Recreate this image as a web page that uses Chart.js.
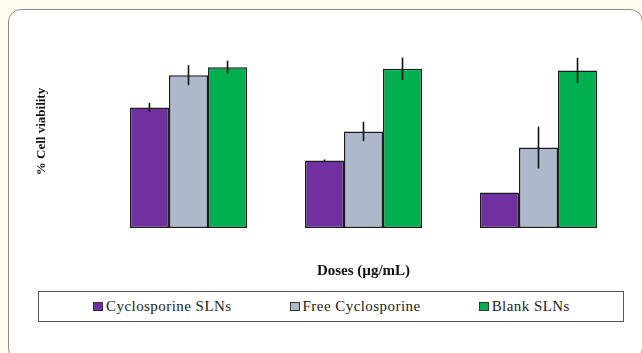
<!DOCTYPE html>
<html>
<head>
<meta charset="utf-8">
<script src="https://cdn.jsdelivr.net/npm/chart.js@4.4.0/dist/chart.umd.min.js"></script>
<style>
    body { margin: 0; background: #fffcee; width: 642px; height: 353px; overflow: hidden; position: relative; }
    .frame { position: absolute; left: 8px; top: 9px; width: 633px; height: 350px; border: 1px solid #8c8c8c; border-radius: 13px; background: #fff; }
    #chartBox { position: absolute; left: 0; top: 0; width: 642px; height: 290px; }
    #legend { position: absolute; left: 38px; top: 291px; width: 586px; height: 31px; border: 1px solid #555; background: #fff;
              display: flex; align-items: center; padding-left: 54px; box-sizing: border-box; }
    #legend .item { display: flex; align-items: center; flex-shrink: 0; white-space: nowrap; margin-right: 58px; font-family: "Liberation Serif", serif; font-size: 15px; letter-spacing: 0.45px; color: #222; }
    #legend .item:last-child { margin-right: 0; }
    #legend .box { width: 8px; height: 7px; border: 1px solid #333; margin-right: 3px; }
</style>
</head>
<body>
<div class="frame"></div>
<div id="chartBox"><canvas id="cellChart" width="642" height="290"></canvas></div>
<div id="legend"></div>
<script>
// Data (skala 0-120, tanpa label sumbu)
const doses = ['Dose 1', 'Dose 2', 'Dose 3'];
const seriesNames = ['Cyclosporine SLNs', 'Free Cyclosporine', 'Blank SLNs'];
const cyclosporineSLNs = [75, 42, 22];
const freeCyclosporine = [95, 60, 50];
const blankSLNs = [100, 99, 98];
const cyclosporineErr = [2.8, 0.6, 0];
const freeErr = [6.2, 6, 13];
const blankErr = [4, 7, 7.8];
const seriesColors = ['#7030a0', '#adb9ca', '#00b050'];

// Plugin garis error
const errorBars = {
    id: 'errorBars',
    afterDatasetsDraw(chart) {
        const ctx = chart.ctx;
        const y = chart.scales.y;
        ctx.save();
        ctx.strokeStyle = '#111';
        ctx.lineWidth = 1.6;
        chart.data.datasets.forEach((ds, i) => {
            const meta = chart.getDatasetMeta(i);
            meta.data.forEach((bar, j) => {
                const err = ds.errors[j];
                if (!err) return;
                const v = ds.data[j];
                ctx.beginPath();
                ctx.moveTo(bar.x, y.getPixelForValue(v + err));
                ctx.lineTo(bar.x, y.getPixelForValue(v - err));
                ctx.stroke();
            });
        });
        ctx.restore();
    }
};

const values = [cyclosporineSLNs, freeCyclosporine, blankSLNs];
const errors = [cyclosporineErr, freeErr, blankErr];

const chart = new Chart(document.getElementById('cellChart').getContext('2d'), {
    type: 'bar',
    data: {
        labels: doses,
        datasets: seriesNames.map((name, i) => ({
            label: name,
            data: values[i],
            errors: errors[i],
            backgroundColor: seriesColors[i],
            borderColor: '#1c1c1c',
            borderWidth: 1.5,
            borderSkipped: false,
            barPercentage: 1,
            categoryPercentage: 0.669
        }))
    },
    options: {
        responsive: false,
        animation: false,
        layout: { padding: { left: 30, right: 16, top: 35, bottom: 6 } },
        plugins: {
            legend: { display: false },
            tooltip: { enabled: false }
        },
        scales: {
            x: {
                grid: { display: false },
                border: { display: false },
                ticks: { display: false },
                title: {
                    display: true,
                    text: 'Doses (µg/mL)',
                    color: '#111',
                    font: { family: 'Liberation Serif', size: 15, weight: 'bold' }
                },
                afterFit: s => { s.height = 56; }
            },
            y: {
                min: 0,
                max: 120,
                grid: { display: false },
                border: { display: false },
                ticks: { display: false },
                title: {
                    display: true,
                    text: '% Cell viability',
                    color: '#111',
                    font: { family: 'Liberation Serif', size: 13, weight: 'bold' }
                },
                afterFit: s => { s.width = 71; }
            }
        }
    },
    plugins: [errorBars]
});

// Legend HTML
const legendEl = document.getElementById('legend');
chart.data.datasets.forEach(ds => {
    const item = document.createElement('div');
    item.className = 'item';
    const box = document.createElement('span');
    box.className = 'box';
    box.style.background = ds.backgroundColor;
    const txt = document.createElement('span');
    txt.textContent = ds.label;
    item.appendChild(box);
    item.appendChild(txt);
    legendEl.appendChild(item);
});
</script>
</body>
</html>
